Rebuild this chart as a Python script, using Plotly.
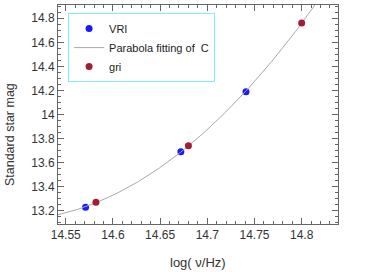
import numpy as np
import plotly.graph_objects as go

vri_x = [14.571, 14.672, 14.741]
vri_y = [13.23, 13.69, 14.19]
gri_x = [14.582, 14.680, 14.800]
gri_y = [13.27, 13.74, 14.76]

# parabola fit of the measured points
coef = np.polyfit(vri_x + gri_x, vri_y + gri_y, 2)
fit_x = np.linspace(14.5418, 14.82, 200)
fit_y = np.polyval(coef, fit_x)

x_ticks = [14.55, 14.6, 14.65, 14.7, 14.75, 14.8]
x_ticklabels = ["14.55", "14.6", "14.65", "14.7", "14.75", "14.8"]
y_ticks = [13.2, 13.4, 13.6, 13.8, 14.0, 14.2, 14.4, 14.6, 14.8]
y_ticklabels = ["13.2", "13.4", "13.6", "13.8", "14", "14.2", "14.4", "14.6", "14.8"]

fig = go.Figure()
fig.add_trace(go.Scatter(x=vri_x, y=vri_y, mode="markers", name="VRI",
                         marker=dict(color="#1a1aff", size=7)))
fig.add_trace(go.Scatter(x=fit_x, y=fit_y, mode="lines", name="Parabola fitting of  C",
                         line=dict(color="#a8a8a8", width=1)))
fig.add_trace(go.Scatter(x=gri_x, y=gri_y, mode="markers", name="gri",
                         marker=dict(color="#a51c30", size=7)))

axis_common = dict(showgrid=False, zeroline=False, showline=True, linecolor="#666666",
                   linewidth=1, mirror="ticks", ticks="inside", ticklen=6, automargin=False,
                   tickcolor="#666666", tickfont=dict(family="Liberation Sans", size=12, color="#333333"))

fig.update_xaxes(range=[14.5418, 14.8385], tickvals=x_ticks, ticktext=x_ticklabels,
                 minor=dict(dtick=0.01, tick0=14.5, ticks="inside", ticklen=3, tickcolor="#666666"),
                 **axis_common)
fig.update_yaxes(range=[13.09, 14.91], tickvals=y_ticks, ticktext=y_ticklabels,
                 minor=dict(dtick=0.05, tick0=13.0, ticks="inside", ticklen=3, tickcolor="#666666"),
                 **axis_common)

fig.add_annotation(text="log( \u03bd/Hz)", xref="paper", yref="paper", x=0.5, y=-0.175,
                   xanchor="center", yanchor="middle", showarrow=False,
                   font=dict(family="Liberation Sans", size=13, color="#333333"))
fig.add_annotation(text="Standard star mag", xref="paper", yref="paper", x=-0.172, y=0.41,
                   xanchor="center", yanchor="middle", showarrow=False, textangle=-90,
                   font=dict(family="Liberation Sans", size=12.5, color="#333333"))

fig.update_layout(
    width=365, height=272,
    margin=dict(l=58, r=27, t=5, b=48),
    plot_bgcolor="white", paper_bgcolor="white",
    showlegend=True,
    legend=dict(x=0.036, y=0.963, xanchor="left", yanchor="top",
                bgcolor="white", bordercolor="#80f0f0", borderwidth=1,
                font=dict(family="Liberation Sans", size=11, color="#222222"),
                tracegroupgap=0, itemwidth=30),
)

fig.write_html("out.html", post_script="document.body.style.margin='0';",
               config={"displayModeBar": False})
